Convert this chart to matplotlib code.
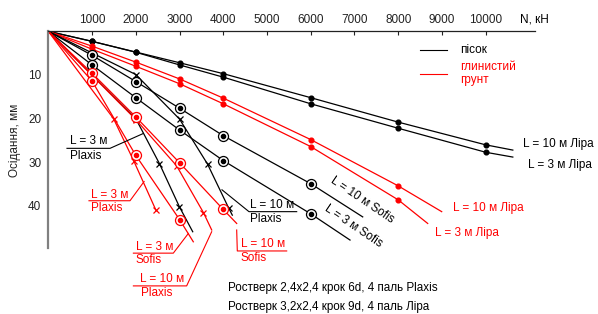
import matplotlib
matplotlib.use('Agg')
import matplotlib.pyplot as plt

plt.rcParams['font.family'] = ['Liberation Sans', 'DejaVu Sans']

RED = '#ff0000'
BLK = '#000000'

# ---------------- data (N in kN, settlement in mm) ----------------
x_ticks = [1000, 2000, 3000, 4000, 5000, 6000, 7000, 8000, 9000, 10000]
y_ticks = [10, 20, 30, 40]

# Ліра, sand (black)
sand_lira_N = [0, 1000, 2000, 3000, 4000, 6000, 8000, 10000]
sand_lira10_s = [0, 2.3, 4.75, 7.2, 9.7, 15.2, 20.8, 26.0]
sand_lira3_s = [0, 2.3, 4.8, 7.7, 10.5, 16.6, 22.2, 27.7]
sand_lira10_end = (10620, 27.2)
sand_lira3_end = (10620, 28.8)

# Ліра, clay (red)
clay_lira_N = [0, 1000, 2000, 3000, 4000, 6000, 8000]
clay_lira10_s = [0, 3.4, 7.05, 10.9, 15.3, 24.8, 35.4]
clay_lira3_s = [0, 4.1, 8.0, 12.0, 16.6, 26.4, 38.6]
clay_lira10_end = (8994, 41.3)
clay_lira3_end = (8674, 44.0)

# Sofis, sand (black)
sand_sofis_N = [0, 1000, 2000, 3000, 4000, 6000]
sand_sofis10_s = [0, 5.5, 11.5, 17.6, 23.9, 34.9]
sand_sofis3_s = [0, 7.7, 15.2, 22.6, 29.6, 41.8]
sand_sofis10_end = (7188, 42.5)
sand_sofis3_end = (6898, 47.8)

# Sofis, clay (red)
clay_sofis10_N = [0, 1000, 2000, 3000, 4000]
clay_sofis10_s = [0, 9.6, 19.6, 30.1, 40.8]
clay_sofis10_end = (4307, 44.0)
clay_sofis3_N = [0, 1000, 2000, 3000]
clay_sofis3_s = [0, 11.4, 28.4, 43.1]
clay_sofis3_end = (3315, 48.2)

# Plaxis, sand (black)
sand_plaxis10_N = [0, 2000, 3000, 3640, 4120]
sand_plaxis10_s = [0, 9.9, 20.1, 30.4, 40.4]
sand_plaxis10_end = (4207, 42.1)
sand_plaxis3_N = [0, 2000, 2541, 2998]
sand_plaxis3_s = [0, 20.0, 30.3, 40.2]
sand_plaxis3_end = (3302, 45.9)

# Plaxis, clay (red)
clay_plaxis10_N = [0, 2000, 2934, 3546]
clay_plaxis10_s = [0, 20.2, 30.8, 41.5]
clay_plaxis10_end = (3736, 45.5)
clay_plaxis3_N = [0, 1491, 1950, 2458]
clay_plaxis3_s = [0, 20.0, 29.6, 40.9]
clay_plaxis3_end = None

# ---------------- figure ----------------
W, H = 598, 314
fig = plt.figure(figsize=(W / 100, H / 100), dpi=100)
x0, x1 = 48.3, 535.0
y0, y1 = 31.3, 248.3
ax = fig.add_axes([x0 / W, 1 - y1 / H, (x1 - x0) / W, (y1 - y0) / H])
ax.set_xlim(0, (x1 - x0) / 43.74 * 1000)
ax.set_ylim((y1 - y0) / 4.367, 0)

for sp in ['right', 'bottom']:
    ax.spines[sp].set_visible(False)
ax.spines['top'].set_color('#222222')
ax.spines['top'].set_linewidth(0.9)
ax.spines['left'].set_color('#808080')
ax.spines['left'].set_linewidth(1.6)

ax.xaxis.tick_top()
ax.set_xticks(x_ticks)
ax.set_xticklabels([str(v) for v in x_ticks])
ax.tick_params(axis='x', direction='in', length=3, width=0.8, pad=4,
               labelsize=8.5, colors='#222222')
ax.set_yticks(y_ticks)
ax.set_yticklabels([str(v) for v in y_ticks])
ax.tick_params(axis='y', length=0, pad=5, labelsize=8.5, colors='#222222')
ax.patch.set_visible(False)

LW = 0.9


def series(N, s, end, color, kind):
    xs = list(N) + ([end[0]] if end else [])
    ys = list(s) + ([end[1]] if end else [])
    ax.plot(xs, ys, color=color, lw=LW, clip_on=False, zorder=2)
    mN, ms_ = N[1:], s[1:]
    if kind == 'lira':
        ax.plot(mN, ms_, 'o', ms=3.4, color=color, mec=color, clip_on=False, zorder=3)
    elif kind == 'sofis':
        ax.plot(mN, ms_, 'o', ms=7.2, mfc='white', mec=color, mew=0.9,
                clip_on=False, zorder=3)
        ax.plot(mN, ms_, 'o', ms=3.0, color=color, clip_on=False, zorder=4)
    else:
        ax.plot(mN, ms_, 'x', ms=4.5, mew=0.9, color=color, clip_on=False, zorder=3)


series(sand_lira_N, sand_lira10_s, sand_lira10_end, BLK, 'lira')
series(sand_lira_N, sand_lira3_s, sand_lira3_end, BLK, 'lira')
series(clay_lira_N, clay_lira10_s, clay_lira10_end, RED, 'lira')
series(clay_lira_N, clay_lira3_s, clay_lira3_end, RED, 'lira')
series(sand_sofis_N, sand_sofis10_s, sand_sofis10_end, BLK, 'sofis')
series(sand_sofis_N, sand_sofis3_s, sand_sofis3_end, BLK, 'sofis')
series(sand_plaxis10_N, sand_plaxis10_s, sand_plaxis10_end, BLK, 'plaxis')
series(sand_plaxis3_N, sand_plaxis3_s, sand_plaxis3_end, BLK, 'plaxis')
series(clay_plaxis10_N, clay_plaxis10_s, clay_plaxis10_end, RED, 'plaxis')
series(clay_plaxis3_N, clay_plaxis3_s, clay_plaxis3_end, RED, 'plaxis')
series(clay_sofis10_N, clay_sofis10_s, clay_sofis10_end, RED, 'sofis')
series(clay_sofis3_N, clay_sofis3_s, clay_sofis3_end, RED, 'sofis')

FS = 8.5


def txt(x, y, s, color=BLK, **kw):
    kw.setdefault('ha', 'left')
    kw.setdefault('va', 'center')
    ax.text(x, y, s, color=color, fontsize=kw.pop('fs', FS), clip_on=False, **kw)


def leader(xs, ys, color):
    ax.plot(xs, ys, color=color, lw=0.8, clip_on=False, zorder=2)


# axis titles
txt(10784, -2.6, 'N, кН', fs=8.5)
ax.text(-761, 24.9, 'Осідання, мм', rotation=90, ha='center', va='center',
        fontsize=8.5, color='#222222', clip_on=False)

# legend
leader([8498, 9108], [4.3, 4.3], BLK)
txt(9413, 4.3, 'пісок')
leader([8498, 9108], [9.8, 9.8], RED)
txt(9413, 8.1, 'глинистий', RED)
txt(9413, 11.2, 'грунт', RED)

# Ліра labels
txt(10853, 25.8, 'L = 10 м Ліра')
txt(10974, 30.6, 'L = 3 м Ліра')
txt(9245, 40.4, 'L = 10 м Ліра', RED)
txt(8841, 46.3, 'L = 3 м Ліра', RED)

# Sofis sand labels (rotated)
ax.text(7172, 38.6, 'L = 10 м Sofis', rotation=-34, ha='center', va='center',
        rotation_mode='anchor', fontsize=FS, color=BLK, clip_on=False)
ax.text(6966, 44.6, 'L = 3 м Sofis', rotation=-34, ha='center', va='center',
        rotation_mode='anchor', fontsize=FS, color=BLK, clip_on=False)

# black L = 3 м Plaxis
txt(496, 25.2, 'L = 3 м')
txt(496, 28.6, 'Plaxis')
leader([427, 1411, 2172], [26.8, 26.8, 23.4], BLK)

# black L = 10 м Plaxis
txt(4611, 39.7, 'L = 10 м')
txt(4611, 43.0, 'Plaxis')
leader([3971, 4588, 5679], [36.3, 41.3, 41.3], BLK)

# red L = 3 м Plaxis
txt(976, 37.4, 'L = 3 м', RED)
txt(976, 40.5, 'Plaxis', RED)
leader([930, 1868, 2190], [38.8, 38.8, 34.4], RED)

# red L = 3 м Sofis
txt(2005, 49.3, 'L = 3 м', RED)
txt(2005, 52.4, 'Sofis', RED)
leader([1945, 2858, 3201], [50.8, 50.8, 46.3], RED)

# red L = 10 м Plaxis
txt(2096, 56.8, 'L = 10 м', RED)
txt(2112, 60.0, 'Plaxis', RED)
leader([1945, 3163, 3735], [58.3, 58.3, 45.9], RED)

# red L = 10 м Sofis
txt(4398, 48.7, 'L = 10 м', RED)
txt(4405, 51.9, 'Sofis', RED)
leader([4307, 4321, 5450], [45.5, 50.3, 50.3], RED)

# bottom notes
txt(4113, 58.8, 'Ростверк 2,4х2,4 крок 6d, 4 паль Plaxis', fs=8.4)
txt(4113, 63.1, 'Ростверк 3,2х2,4 крок 9d, 4 паль Ліра', fs=8.4)

fig.savefig('out.png', dpi=100)
